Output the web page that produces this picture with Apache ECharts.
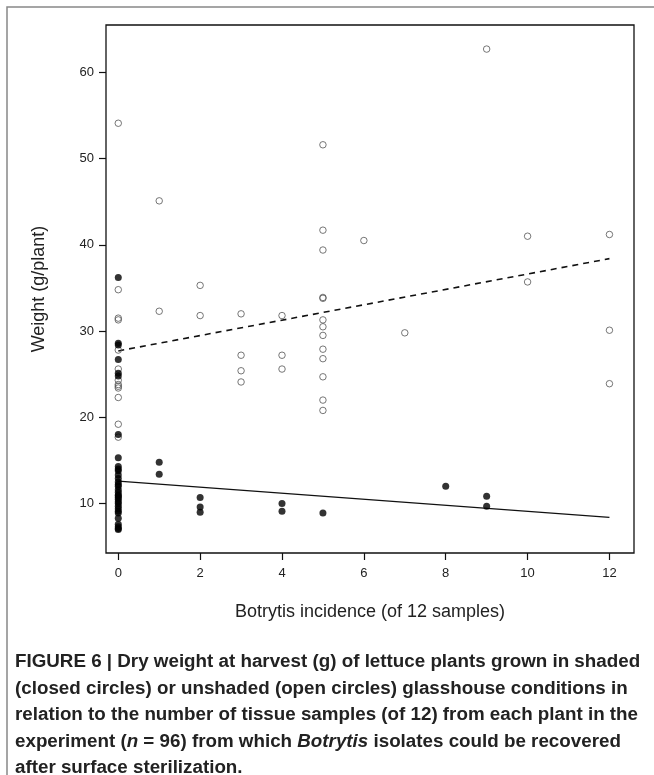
<!DOCTYPE html>
<html>
<head>
<meta charset="utf-8">
<script src="https://cdn.jsdelivr.net/npm/echarts@6/dist/echarts.min.js"></script>
<style>
html,body{margin:0;padding:0;background:#fff;}
#chart{width:654px;height:775px;}
</style>
</head>
<body>
<div id="chart"></div>
<script>
// Botrytis incidence (x) and dry weight g/plant (y)
const shadedX = [0,0,0,0,0,0,0, 0,0,0,0,0,0,0,0,0,0,0,0,0,0,0,0,0,0,0,0,0,0,0,0,0,0, 1,1, 2,2,2, 4,4, 5, 8, 9,9];
const shadedY = [36.2,28.6,28.4,26.7,25.1,24.8,18.0, 15.3,14.3,14.0,13.8,13.3,12.9,12.5,12.2,12.0,11.6,11.3,11.0,10.9,10.7,10.5,10.2,10.0,9.7,9.4,9.1,8.9,8.3,7.6,7.3,7.1,7.0, 14.8,13.4, 10.7,9.6,9.0, 10.0,9.1, 8.9, 12.0, 10.85,9.7];
const unshadedX = [0,0,0,0,0,0,0,0,0,0,0,0,0, 1,1, 2,2, 3,3,3,3, 4,4,4, 5,5,5,5,5,5,5,5,5,5,5,5,5, 6, 7, 9, 10,10, 12,12,12];
const unshadedY = [54.1,34.8,31.5,31.3,27.8,25.6,24.3,23.8,23.6,23.4,22.3,19.2,17.7, 45.1,32.3, 35.3,31.8, 32.0,27.2,25.4,24.1, 31.8,27.2,25.6, 51.6,41.7,39.4,33.9,33.8,31.3,30.5,29.5,27.9,26.8,24.7,22.0,20.8, 40.5, 29.8, 62.7, 41.0,35.7, 41.2,30.1,23.9];
// fitted regression lines (endpoints at x = 0 and x = 12)
const fitX = [0, 12];
const fitShaded = [12.6, 8.4];
const fitUnshaded = [27.7, 38.4];
const xTicks = [0, 2, 4, 6, 8, 10, 12];
const yTicks = [10, 20, 30, 40, 50, 60];
const xTitle = 'Botrytis incidence (of 12 samples)';
const yTitle = 'Weight (g/plant)';
const captionLines = [
  '{b|FIGURE 6 | Dry weight at harvest (g) of lettuce plants grown in shaded}',
  '{b|(closed circles) or unshaded (open circles) glasshouse conditions in}',
  '{b|relation to the number of tissue samples (of 12) from each plant in the}',
  '{b|experiment (}{bi|n}{b| = 96) from which }{bi|Botrytis}{b| isolates could be recovered}',
  '{b|after surface sterilization.}'
];

const zip = (xs, ys) => xs.map((x, i) => [x, ys[i]]);
const FONT = '"Liberation Sans", Arial, Helvetica, sans-serif';
const capSize = 18.8;
const rich = {
  b: {fontFamily: FONT, fontWeight: 'bold', fontSize: capSize, color: '#222'},
  bi: {fontFamily: FONT, fontWeight: 'bold', fontStyle: 'italic', fontSize: capSize, color: '#222'}
};
const capTop = 662, capStep = 26.5;
const captionGraphics = captionLines.map((t, i) => ({
  type: 'text', left: 15, top: capTop + i * capStep - capSize / 2,
  style: {text: t, rich: rich, font: 'bold ' + capSize + 'px ' + FONT, fill: '#222'}
}));

const chart = echarts.init(document.getElementById('chart'), null, {renderer: 'canvas'});
chart.setOption({
  animation: false,
  backgroundColor: '#fff',
  textStyle: {fontFamily: FONT},
  grid: {left: 106, right: 20, top: 25, bottom: 222, show: true, borderColor: '#111', borderWidth: 1.3, backgroundColor: 'transparent'},
  xAxis: {
    type: 'value', min: -0.3, max: 12.6,
    name: xTitle, nameLocation: 'middle', nameGap: 50,
    nameTextStyle: {fontSize: 18, color: '#222', fontFamily: FONT},
    axisLine: {show: false, onZero: false},
    splitLine: {show: false},
    axisTick: {show: true, inside: false, length: 7, customValues: xTicks, lineStyle: {color: '#111', width: 1.2}},
    axisLabel: {show: true, margin: 14, fontSize: 13, color: '#222', customValues: xTicks, fontFamily: FONT}
  },
  yAxis: {
    type: 'value', min: 4.27, max: 65.49,
    name: yTitle, nameLocation: 'middle', nameGap: 58, nameRotate: 90,
    nameTextStyle: {fontSize: 18, color: '#222', fontFamily: FONT},
    axisLine: {show: false, onZero: false},
    splitLine: {show: false},
    axisTick: {show: true, inside: false, length: 7, customValues: yTicks, lineStyle: {color: '#111', width: 1.2}},
    axisLabel: {show: true, margin: 12, fontSize: 13, color: '#222', customValues: yTicks, fontFamily: FONT}
  },
  graphic: [
    {type: 'polyline', shape: {points: [[7, 775], [7, 7], [654, 7]]}, style: {stroke: '#888', lineWidth: 1.5, fill: null}, silent: true},
    ...captionGraphics
  ],
  series: [
    {
      name: 'Unshaded fit', type: 'line', data: zip(fitX, fitUnshaded), symbol: 'none',
      lineStyle: {color: '#111', width: 1.6, type: [6, 5]}, z: 3
    },
    {
      name: 'Shaded fit', type: 'line', data: zip(fitX, fitShaded), symbol: 'none',
      lineStyle: {color: '#111', width: 1.3, type: 'solid'}, z: 3
    },
    {
      name: 'Unshaded', type: 'scatter', data: zip(unshadedX, unshadedY),
      symbol: 'circle', symbolSize: 6.5,
      itemStyle: {color: 'rgba(255,255,255,0)', borderColor: '#555', borderWidth: 1}, z: 4
    },
    {
      name: 'Shaded', type: 'scatter', data: zip(shadedX, shadedY),
      symbol: 'circle', symbolSize: 7,
      itemStyle: {color: '#000', borderColor: '#000', borderWidth: 0}, z: 5
    }
  ]
});
</script>
</body>
</html>
